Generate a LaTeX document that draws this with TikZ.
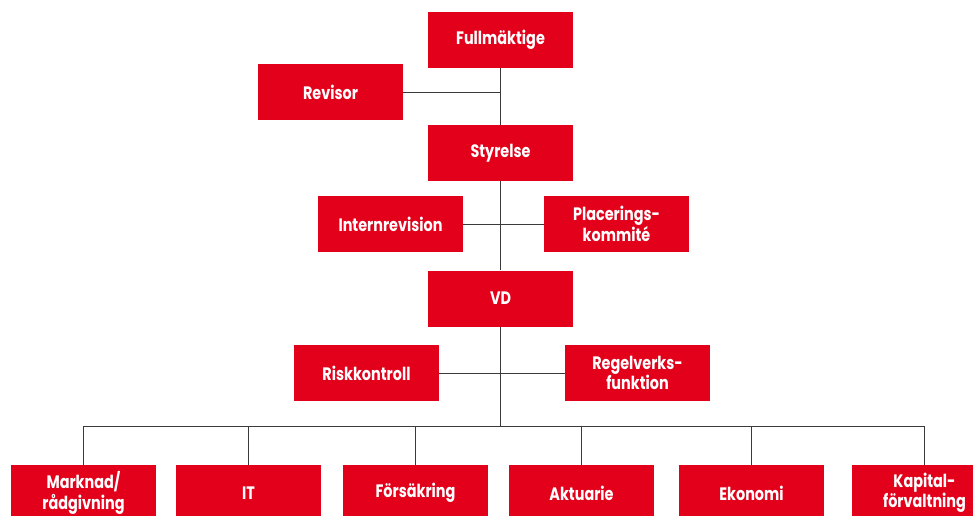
\documentclass[tikz,border=0pt]{standalone}
\usepackage{fontspec}
\setmainfont{Poppins}[FakeStretch=0.8]
\definecolor{boxred}{HTML}{E2001A}
\definecolor{linegray}{HTML}{3A3A3A}
\tikzset{
  orgbox/.style={fill=boxred, draw=none, minimum width=145pt, minimum height=56pt,
    inner sep=0pt, text=white, font=\bfseries\fontsize{18}{20.5}\selectfont, align=center},
  bottombox/.style={orgbox, minimum height=56pt},
  conn/.style={draw=linegray, line width=1pt}
}
\begin{document}
\begin{tikzpicture}[x=1pt,y=-1pt]
\useasboundingbox (0,0) rectangle (973,515);
\begin{scope}
\clip (0,0) rectangle (973,515);
% top part
\node[orgbox] (full) at (500.5,40) {Fullmäktige};
\node[orgbox] (rev) at (330.5,92) {Revisor};
\node[orgbox] (sty) at (500.5,153) {Styrelse};
\node[orgbox] (int) at (390.5,224) {Internrevision};
\node[orgbox] (plac) at (616.5,224) {Placerings-\\kommité};
\node[orgbox] (vd) at (500.5,298.5) {VD};
\node[orgbox] (risk) at (366.5,373) {Riskkontroll};
\node[orgbox] (regel) at (637.5,373) {Regelverks-\\funktion};
% bottom row
\node[bottombox] (mark) at (83.5,493) {Marknad/\\rådgivning};
\node[bottombox] (it) at (248.5,493) {IT};
\node[bottombox] (fors) at (415.5,493) {Försäkring};
\node[bottombox] (akt) at (581.5,493) {Aktuarie};
\node[bottombox] (eko) at (751.5,493) {Ekonomi};
\node[bottombox] (kap) at (924.5,493) {Kapital-\\förvaltning};
\coordinate (bus) at (500.5,426);
% connectors
\draw[conn] (full.south) -- (sty.north);
\draw[conn] (rev.east) -- (rev.east -| full.south);
\draw[conn] (sty.south) -- (vd.north);
\draw[conn] (int.east) -- (plac.west);
\draw[conn] (risk.east) -- (regel.west);
\draw[conn] (vd.south) -- (bus);
\draw[conn] (mark.north) -- (mark.north |- bus) -- (kap.north |- bus) -- (kap.north);
\foreach \n in {it,fors,akt,eko}{
  \draw[conn] (\n.north) -- (\n.north |- bus);
}
\end{scope}
\end{tikzpicture}
\end{document}
